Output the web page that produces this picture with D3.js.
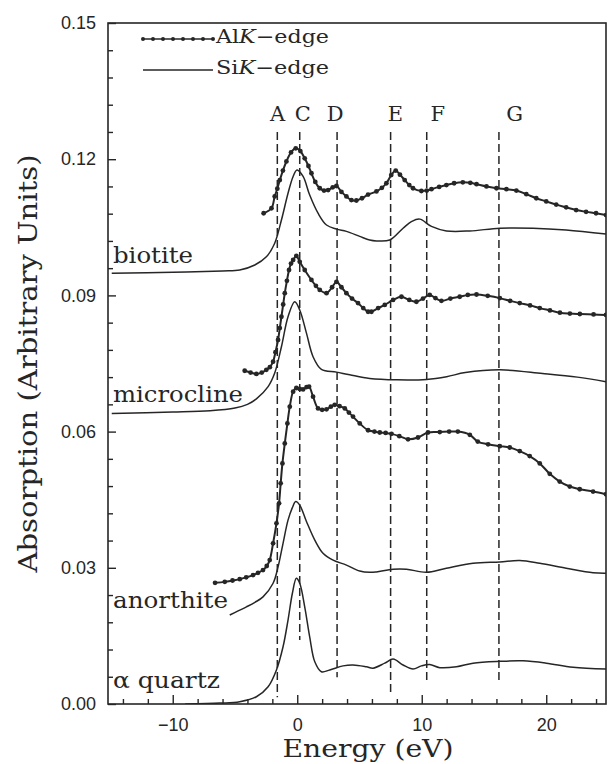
<!DOCTYPE html>
<html><head><meta charset="utf-8">
<script src="https://cdn.jsdelivr.net/npm/d3@7"></script>
<style>
html,body{margin:0;padding:0;background:#fff;}
svg{display:block;}
</style>
</head><body>
<script>
// ---------------- DATA ----------------
const biotiteAlE = [-2.7,-2.07,-1.81,-1.6,-1.4,-1.15,-0.87,-0.5,-0.12,0.25,0.6,0.9,1.14,1.45,1.81,2.15,2.48,2.85,3.15,3.55,3.95,4.35,4.75,5.2,5.69,6.36,6.8,7.16,7.55,7.91,8.25,8.63,9.0,9.3,9.97,10.4,10.78,11.4,11.98,12.6,13.3,13.9,14.4,15.2,16.0,16.8,17.6,18.4,19.2,20.0,20.8,21.6,22.4,23.2,24.0,24.8];
const biotiteAlV = [0.1081,0.1092,0.1118,0.1135,0.1154,0.1175,0.1195,0.1215,0.1224,0.1218,0.1202,0.1185,0.1169,0.1150,0.1136,0.1131,0.1132,0.1138,0.1141,0.1128,0.1118,0.1110,0.1109,0.1114,0.1122,0.1129,0.1137,0.1147,0.1165,0.1175,0.1166,0.1154,0.1143,0.1136,0.1130,0.1131,0.1134,0.1139,0.1143,0.1147,0.1149,0.1148,0.1145,0.1140,0.1136,0.1134,0.1131,0.1123,0.1114,0.1107,0.1100,0.1094,0.1088,0.1084,0.1081,0.1077];

const biotiteSiE = [-14.9,-10,-6,-4.62,-3.41,-2.48,-1.81,-1.27,-0.74,-0.33,-0.02,0.47,1.0,1.67,2.35,3.15,3.95,5.02,5.82,6.36,7.43,8.5,9.2,9.84,10.78,11.98,13.86,16.27,18.94,21.6,24.8];
const biotiteSiV = [0.0949,0.0951,0.0954,0.0956,0.0967,0.0985,0.1015,0.1066,0.1125,0.1162,0.1176,0.1162,0.1121,0.1081,0.1055,0.1046,0.1041,0.1030,0.1022,0.1020,0.1022,0.1048,0.1063,0.1068,0.1052,0.1042,0.1042,0.1048,0.1048,0.1044,0.1035];

const microclineAlE = [-4.22,-3.75,-3.28,-2.85,-2.48,-2.2,-1.94,-1.75,-1.54,-1.4,-1.27,-1.13,-1.0,-0.83,-0.66,-0.5,-0.33,-0.07,0.2,0.6,1.14,1.5,1.81,2.35,2.8,3.15,3.55,3.95,4.4,4.88,5.3,5.69,5.96,6.5,7.03,7.7,8.37,9.0,9.57,10.1,10.64,11.1,11.58,12.3,13.05,13.7,14.4,15.3,16.27,17.1,17.87,18.7,19.48,20.3,21.1,21.9,22.7,23.8,24.8];
const microclineAlV = [0.0734,0.0730,0.0727,0.0730,0.0736,0.0742,0.0754,0.0775,0.0802,0.0828,0.0853,0.0880,0.0905,0.0932,0.0956,0.0970,0.0978,0.0987,0.0974,0.0956,0.0934,0.0921,0.0912,0.0905,0.0918,0.0930,0.0918,0.0905,0.0893,0.0883,0.0872,0.0864,0.0864,0.0872,0.0879,0.0890,0.0897,0.0890,0.0886,0.0893,0.0901,0.0894,0.0888,0.0893,0.0897,0.0901,0.0902,0.0899,0.0894,0.0888,0.0883,0.0878,0.0872,0.0867,0.0862,0.0860,0.0859,0.0858,0.0857];

const microclineSiE = [-14.9,-10,-7,-5,-4.0,-3.28,-2.34,-1.81,-1.27,-0.74,-0.2,0.2,0.74,1.27,1.94,3.15,4.22,5.82,8.0,10.4,12.0,13.5,16.3,19.7,22.5,24.8];
const microclineSiV = [0.0640,0.0643,0.0646,0.0652,0.0660,0.0672,0.0699,0.0729,0.0787,0.0853,0.0886,0.0868,0.0817,0.0765,0.0737,0.0731,0.0725,0.0717,0.0714,0.0715,0.0721,0.0730,0.0736,0.0728,0.0720,0.0710];

const anorthiteAlE = [-6.6,-5.82,-5.2,-4.62,-4.1,-3.55,-3.15,-2.75,-2.45,-2.21,-1.94,-1.67,-1.46,-1.33,-1.19,-1.0,-0.79,-0.6,-0.33,-0.07,0.2,0.47,0.75,0.95,1.27,1.67,2.0,2.35,2.7,3.01,3.4,3.82,4.15,4.48,5.02,5.69,6.2,6.63,7.1,7.57,8.2,8.9,9.7,10.5,11.45,12.2,12.9,13.86,14.5,15.33,16.27,17.07,17.87,18.67,19.48,20.28,21.08,21.89,22.69,23.76,24.8];
const anorthiteAlV = [0.0267,0.0269,0.0272,0.0275,0.0279,0.0284,0.0289,0.0295,0.0304,0.0317,0.0354,0.0398,0.0442,0.0486,0.0530,0.0574,0.0618,0.0655,0.0688,0.0696,0.0694,0.0693,0.0698,0.0699,0.0677,0.0651,0.0648,0.0649,0.0655,0.0659,0.0656,0.0651,0.0642,0.0633,0.0618,0.0603,0.0600,0.0598,0.0597,0.0595,0.0590,0.0583,0.0587,0.0598,0.0599,0.0600,0.0600,0.0593,0.0578,0.0572,0.0568,0.0565,0.0557,0.0546,0.0530,0.0507,0.0490,0.0479,0.0473,0.0468,0.0462];

const anorthiteSiE = [-5.42,-4.75,-4.08,-3.4,-2.75,-1.94,-1.54,-1.14,-0.74,-0.4,-0.12,0.2,0.74,1.41,2.07,2.88,3.95,5.02,5.82,6.36,7.7,8.77,10.37,11.98,14.12,16.27,17.87,19.48,21.6,23.76,24.8];
const anorthiteSiV = [0.0196,0.0205,0.0214,0.0224,0.0236,0.0266,0.0302,0.0354,0.0405,0.0432,0.0446,0.0438,0.0402,0.0361,0.0332,0.0317,0.0306,0.0293,0.0290,0.0291,0.0297,0.0297,0.0290,0.0299,0.0310,0.0313,0.0316,0.0310,0.0299,0.0289,0.0288];

const quartzSiE = [-9,-6.22,-4.62,-3.28,-2.34,-1.67,-1.14,-0.74,-0.39,-0.07,0.2,0.6,1.0,1.41,1.94,2.61,3.68,4.48,5.56,6.09,7.03,7.7,8.5,9.3,9.97,10.64,11.45,12.79,14.12,16.27,18.13,20.0,22.15,24.8];
const quartzSiV = [0.0000,0.0002,0.0005,0.0016,0.0038,0.0075,0.0126,0.0185,0.0244,0.0277,0.0266,0.0214,0.0148,0.0093,0.0071,0.0075,0.0084,0.0086,0.0082,0.0079,0.0090,0.0099,0.0086,0.0077,0.0084,0.0087,0.0080,0.0082,0.0090,0.0094,0.0095,0.0090,0.0081,0.0077];

const sampleNames = ["biotite","microcline","anorthite","\u03b1 quartz"];
const sampleLabelValues = [0.0971, 0.0665, 0.0212, 0.0036];

const featureLabels = ["A","C","D","E","F","G"];
const featureEnergies = [-1.6, 0.2, 3.2, 7.5, 10.4, 16.2];
const featureLabelEnergies = [-1.57, 0.44, 3.05, 7.88, 11.29, 17.47];
const featureTop = 0.126;
const featureBottoms = [0.0015, 0.0141, 0.0059, 0.0026, 0.0046, 0.0046];
const featureLabelValue = 0.1285;

const xMajorTicks = [-10, 0, 10, 20];
const xMinorTicks = [-14,-12,-8,-6,-4,-2,2,4,6,8,12,14,16,18,22,24];
const yMajorTicks = [0, 0.03, 0.06, 0.09, 0.12, 0.15];
const yMinorTicks = [0.006,0.012,0.018,0.024,0.036,0.042,0.048,0.054,0.066,0.072,0.078,0.084,0.096,0.102,0.108,0.114,0.126,0.132,0.138,0.144];

const legendLabels = [["Al","K","\u2212edge"],["Si","K","\u2212edge"]];

// ---------------- DRAW ----------------
const W = 608, H = 764;
const ink = "#262626";
const serif = "'DejaVu Serif', serif";
const sans = "'Liberation Sans', Arial, sans-serif";

const svg = d3.select("body").append("svg").attr("width", W).attr("height", H);

const x = d3.scaleLinear().domain([-15.2, 24.8]).range([108, 606]);
const y = d3.scaleLinear().domain([0, 0.15]).range([704, 23]);

svg.append("defs").append("clipPath").attr("id","plotclip")
  .append("rect").attr("x", x(-15.2)).attr("y", y(0.15)).attr("width", x(24.8)-x(-15.2)).attr("height", y(0)-y(0.15));

// Dashed feature lines
const feat = svg.append("g");
featureEnergies.forEach((e,i) => {
  feat.append("line")
    .attr("x1", x(e)).attr("x2", x(e))
    .attr("y1", y(featureTop)).attr("y2", y(featureBottoms[i]))
    .attr("stroke", ink).attr("stroke-width", 1.5)
    .attr("stroke-dasharray", "8,4");
  feat.append("text")
    .attr("x", x(featureLabelEnergies[i])).attr("y", y(featureLabelValue))
    .attr("text-anchor","middle")
    .attr("font-family", serif).attr("font-size", 21).attr("fill", ink)
    .text(featureLabels[i]);
});

// curves
const plot = svg.append("g").attr("clip-path","url(#plotclip)");
const line = d3.line().x(d => x(d[0])).y(d => y(d[1])).curve(d3.curveCatmullRom.alpha(0.5));
const zip = (a,b) => a.map((v,i) => [v, b[i]]);

const siSeries = [zip(biotiteSiE,biotiteSiV), zip(microclineSiE,microclineSiV), zip(anorthiteSiE,anorthiteSiV), zip(quartzSiE,quartzSiV)];
const alSeries = [zip(biotiteAlE,biotiteAlV), zip(microclineAlE,microclineAlV), zip(anorthiteAlE,anorthiteAlV)];

siSeries.forEach(s => {
  plot.append("path").datum(s).attr("d", line)
    .attr("fill","none").attr("stroke", ink).attr("stroke-width", 1.5);
});
alSeries.forEach(s => {
  plot.append("path").datum(s).attr("d", line)
    .attr("fill","none").attr("stroke", ink).attr("stroke-width", 2);
  plot.append("g").selectAll("circle").data(s).join("circle")
    .attr("cx", d => x(d[0])).attr("cy", d => y(d[1])).attr("r", 2.4).attr("fill", ink);
});

// sample labels
const labelWidths = [80, 130, 115, 107];
sampleNames.forEach((n,i) => {
  svg.append("text")
    .attr("x", x(-15.2) + 5).attr("y", y(sampleLabelValues[i]))
    .attr("font-family", serif).attr("font-size", 22).attr("fill", ink)
    .attr("textLength", labelWidths[i]).attr("lengthAdjust","spacingAndGlyphs")
    .text(n);
});

// Axes
svg.append("rect")
  .attr("x", x(-15.2)).attr("y", y(0.15))
  .attr("width", x(24.8)-x(-15.2)).attr("height", y(0)-y(0.15))
  .attr("fill","none").attr("stroke", ink).attr("stroke-width", 1.6);

const xMaj = svg.append("g").attr("transform", `translate(0,${y(0)})`)
  .call(d3.axisBottom(x).tickValues(xMajorTicks).tickSize(-9).tickPadding(14)
        .tickFormat(d => d < 0 ? "\u2212" + Math.abs(d) : String(d)));
const xMin = svg.append("g").attr("transform", `translate(0,${y(0)})`)
  .call(d3.axisBottom(x).tickValues(xMinorTicks).tickSize(-5).tickFormat(""));
const yMaj = svg.append("g").attr("transform", `translate(${x(-15.2)},0)`)
  .call(d3.axisLeft(y).tickValues(yMajorTicks).tickSize(-8).tickPadding(12).tickFormat(d3.format(".2f")));
const yMin = svg.append("g").attr("transform", `translate(${x(-15.2)},0)`)
  .call(d3.axisLeft(y).tickValues(yMinorTicks).tickSize(-5).tickFormat(""));
[xMaj,xMin,yMaj,yMin].forEach(g => {
  g.select(".domain").remove();
  g.selectAll("line").attr("stroke", ink).attr("stroke-width", 1.4);
  g.selectAll("text").attr("font-family", sans).attr("font-size", 18).attr("fill", ink);
});

// axis titles
svg.append("text")
  .attr("x", (x(-15.2)+x(24.8))/2 + 11).attr("y", 757)
  .attr("text-anchor","middle").attr("font-family", serif).attr("font-size", 25).attr("fill", ink)
  .attr("textLength", 171).attr("lengthAdjust","spacingAndGlyphs")
  .text("Energy (eV)");
svg.append("text")
  .attr("transform", `translate(37,${(y(0)+y(0.15))/2}) rotate(-90)`)
  .attr("text-anchor","middle").attr("font-family", serif).attr("font-size", 26).attr("fill", ink)
  .attr("textLength", 418).attr("lengthAdjust","spacingAndGlyphs")
  .text("Absorption (Arbitrary Units)");

// legend
const lg = svg.append("g");
const legY = [39, 70];
const legX0 = 143, legX1 = 213;
lg.append("line").attr("x1",legX0).attr("x2",legX1).attr("y1",legY[0]).attr("y2",legY[0]).attr("stroke",ink).attr("stroke-width",1.6);
lg.selectAll("circle").data(d3.range(8)).join("circle")
  .attr("cx", i => legX0 + i*(legX1-legX0)/7).attr("cy", legY[0]).attr("r", 2).attr("fill", ink);
lg.append("line").attr("x1",legX0).attr("x2",legX1).attr("y1",legY[1]).attr("y2",legY[1]).attr("stroke",ink).attr("stroke-width",1.3);
legendLabels.forEach((parts,i) => {
  const t = lg.append("text").attr("x", 216).attr("y", legY[i] + 4)
    .attr("font-family", serif).attr("font-size", 19).attr("fill", ink)
    .attr("textLength", 113).attr("lengthAdjust","spacingAndGlyphs");
  t.append("tspan").text(parts[0]);
  t.append("tspan").attr("font-style","italic").text(parts[1]);
  t.append("tspan").text(parts[2]);
});
</script>
</body></html>
